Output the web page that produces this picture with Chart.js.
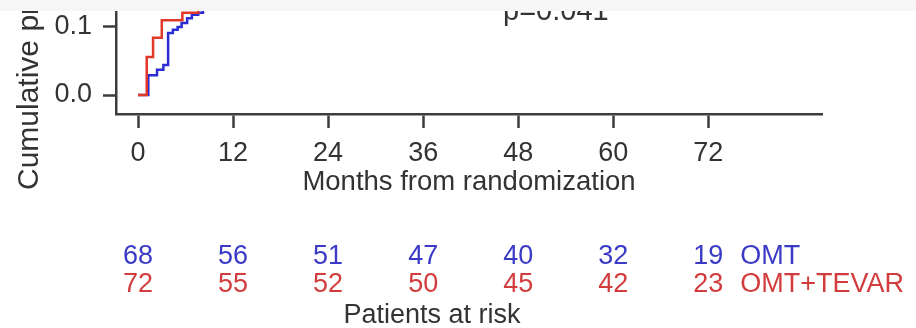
<!DOCTYPE html>
<html>
<head>
<meta charset="utf-8">
<script src="https://cdn.jsdelivr.net/npm/chart.js@4/dist/chart.umd.min.js"></script>
<style>
  html, body { margin: 0; padding: 0; background: #f6f6f6; }
  #wrap { position: absolute; left: 0; top: 11px; width: 916px; height: 317px; background: #ffffff; }
  canvas { display: block; }
</style>
</head>
<body>
<div id="wrap"><canvas id="km" width="916" height="317"></canvas></div>
<script>
// Axis ticks
const monthTicks = [0, 12, 24, 36, 48, 60, 72];
const probTicks = [0, 0.1];
const probTickLabels = ['0.0', '0.1'];

// Kaplan-Meier step points (months, cumulative probability)
const omtMonths = [0, 1.3, 2.4, 3.2, 3.8, 4.4, 5.0, 5.5, 6.2, 6.8, 7.6, 8.2];
const omtRisk   = [0, 0.029, 0.037, 0.044, 0.091, 0.096, 0.100, 0.106, 0.113, 0.118, 0.121, 0.140];
const tevarMonths = [0, 1.1, 1.9, 3.0, 5.6, 7.6];
const tevarRisk   = [0, 0.056, 0.084, 0.110, 0.121, 0.140];

// Number at risk below the axis
const groupNames = ['OMT', 'OMT+TEVAR'];
const omtAtRisk = [68, 56, 51, 47, 40, 32, 19];
const tevarAtRisk = [72, 55, 52, 50, 45, 42, 23];

const pValueText = 'p=0.041';
const xTitle = 'Months from randomization';
const yTitle = 'Cumulative probability';
const riskTitle = 'Patients at risk';

const FONT = '"Liberation Sans", Arial, Helvetica, sans-serif';
const TEXT = '#333333';
const AXIS = '#3c3c3c';
const BLUE = '#2c2cd4';
const RED = '#e2382a';
const BLUE_TXT = '#3a3ac6';
const RED_TXT = '#d23c3c';

const toPoints = (xs, ys) => xs.map((x, i) => ({ x: x, y: ys[i] }));

const annotations = {
  id: 'annotations',
  afterDraw(chart) {
    const ctx = chart.ctx;
    const xs = chart.scales.x;
    const area = chart.chartArea;
    ctx.save();
    ctx.textBaseline = 'alphabetic';

    // p-value
    ctx.font = '29px ' + FONT;
    ctx.fillStyle = TEXT;
    ctx.textAlign = 'left';
    ctx.fillText(pValueText, 503, 9);

    // x axis title
    ctx.font = '27.5px ' + FONT;
    ctx.textAlign = 'center';
    ctx.fillText(xTitle, (area.left + area.right) / 2, 179);

    // number at risk rows
    ctx.font = '27px ' + FONT;
    const rows = [
      { counts: omtAtRisk, color: BLUE_TXT, y: 253, name: groupNames[0] },
      { counts: tevarAtRisk, color: RED_TXT, y: 281, name: groupNames[1] }
    ];
    rows.forEach(r => {
      ctx.fillStyle = r.color;
      ctx.textAlign = 'center';
      r.counts.forEach((n, i) => {
        ctx.fillText(String(n), xs.getPixelForValue(monthTicks[i]), r.y);
      });
      ctx.textAlign = 'left';
      ctx.fillText(r.name, xs.getPixelForValue(monthTicks[monthTicks.length - 1]) + 32, r.y);
    });

    ctx.fillStyle = TEXT;
    ctx.textAlign = 'center';
    ctx.fillText(riskTitle, 432, 312);

    // rotated y axis title
    ctx.font = '30px ' + FONT;
    ctx.translate(38, 179);
    ctx.rotate(-Math.PI / 2);
    ctx.textAlign = 'left';
    ctx.fillText(yTitle, 0, 0);
    ctx.restore();
  }
};

new Chart(document.getElementById('km'), {
  type: 'line',
  data: {
    datasets: [
      {
        label: groupNames[1],
        data: toPoints(tevarMonths, tevarRisk),
        stepped: true,
        borderColor: RED,
        borderWidth: 2.5,
        pointRadius: 0,
        fill: false
      },
      {
        label: groupNames[0],
        data: toPoints(omtMonths, omtRisk),
        stepped: true,
        borderColor: BLUE,
        borderWidth: 2.5,
        pointRadius: 0,
        fill: false
      }
    ]
  },
  options: {
    responsive: false,
    animation: false,
    devicePixelRatio: 1,
    layout: { padding: { left: 0, right: 94, top: 0, bottom: 0 } },
    plugins: { legend: { display: false }, tooltip: { enabled: false } },
    scales: {
      x: {
        type: 'linear',
        min: -2.78,
        max: 86.36,
        afterBuildTicks: s => { s.ticks = monthTicks.map(v => ({ value: v })); },
        afterFit: s => { s.height = 214; s.paddingLeft = 0; s.paddingRight = 0; },
        grid: { drawOnChartArea: false, drawTicks: true, tickLength: 14, tickWidth: 2.5, tickColor: AXIS },
        border: { display: true, color: AXIS, width: 2.5 },
        ticks: {
          autoSkip: false, maxRotation: 0, padding: 9, color: TEXT,
          font: { family: FONT, size: 27 },
          callback: v => String(v)
        }
      },
      y: {
        min: -0.0279,
        max: 0.1235,
        afterBuildTicks: s => { s.ticks = probTicks.map(v => ({ value: v })); },
        afterFit: s => { s.width = 116; s.paddingTop = 0; s.paddingBottom = 0; },
        grid: { drawOnChartArea: false, drawTicks: true, tickLength: 13, tickWidth: 2.5, tickColor: AXIS },
        border: { display: true, color: AXIS, width: 2.5 },
        ticks: {
          padding: 11, color: TEXT,
          font: { family: FONT, size: 27 },
          callback: (v, i) => probTickLabels[i]
        }
      }
    }
  },
  plugins: [annotations]
});
</script>
</body>
</html>
